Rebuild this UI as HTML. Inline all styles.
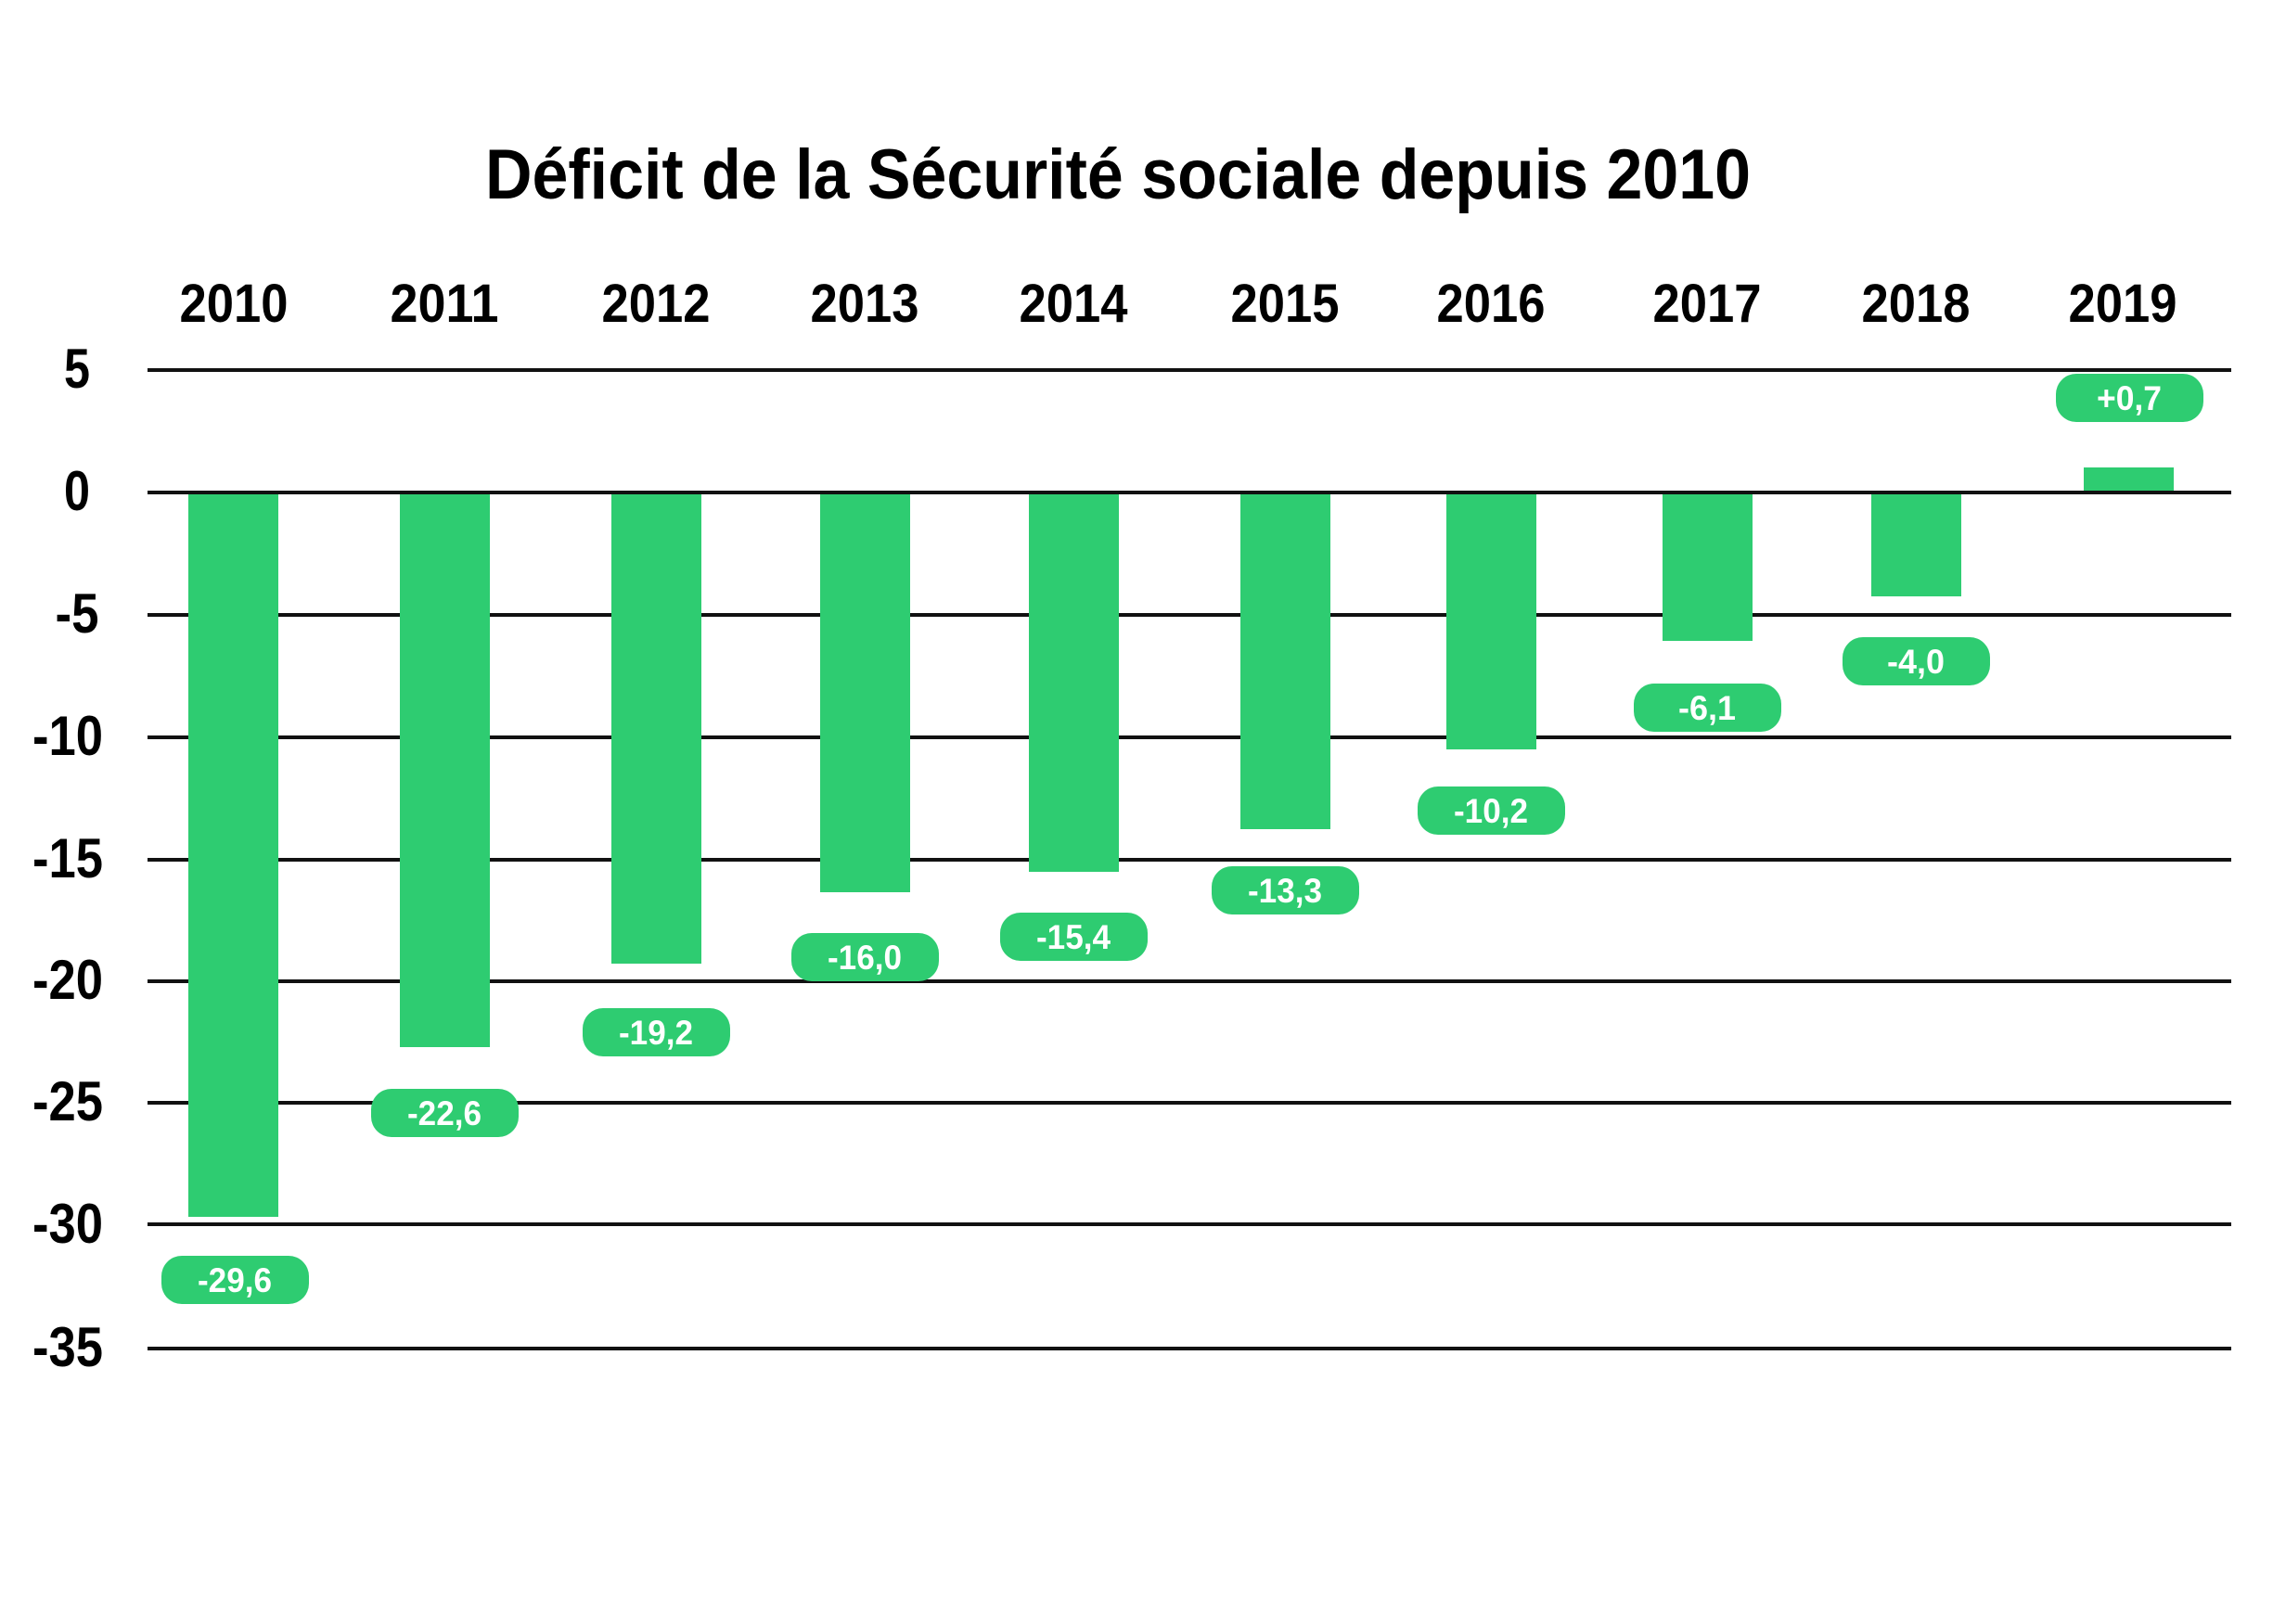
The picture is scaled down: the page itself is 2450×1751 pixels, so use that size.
<!DOCTYPE html>
<html><head><meta charset="utf-8"><style>
html,body{margin:0;padding:0;background:#fff;}
svg{display:block;}
text{font-family:"Liberation Sans",sans-serif;font-weight:bold;}
</style></head><body>
<svg width="2450" height="1751" viewBox="0 0 2450 1751" xmlns="http://www.w3.org/2000/svg">
<rect width="2450" height="1751" fill="#fff"/>
<text x="1205" y="214" font-size="76" text-anchor="middle" textLength="1364" lengthAdjust="spacingAndGlyphs" fill="#000">Déficit de la Sécurité sociale depuis 2010</text>
<g stroke="#111" stroke-width="4">
<line x1="159" x2="2405" y1="399" y2="399"/>
<line x1="159" x2="2405" y1="531" y2="531"/>
<line x1="159" x2="2405" y1="663" y2="663"/>
<line x1="159" x2="2405" y1="795" y2="795"/>
<line x1="159" x2="2405" y1="927" y2="927"/>
<line x1="159" x2="2405" y1="1058" y2="1058"/>
<line x1="159" x2="2405" y1="1189" y2="1189"/>
<line x1="159" x2="2405" y1="1320" y2="1320"/>
<line x1="159" x2="2405" y1="1454" y2="1454"/>
</g>
<g font-size="60" fill="#000" text-anchor="middle">
<text x="83" y="418" textLength="28" lengthAdjust="spacingAndGlyphs">5</text>
<text x="83" y="550" textLength="28" lengthAdjust="spacingAndGlyphs">0</text>
<text x="83" y="682" textLength="47" lengthAdjust="spacingAndGlyphs">-5</text>
<text x="73" y="814" textLength="76" lengthAdjust="spacingAndGlyphs">-10</text>
<text x="73" y="946" textLength="76" lengthAdjust="spacingAndGlyphs">-15</text>
<text x="73" y="1077" textLength="76" lengthAdjust="spacingAndGlyphs">-20</text>
<text x="73" y="1208" textLength="76" lengthAdjust="spacingAndGlyphs">-25</text>
<text x="73" y="1340" textLength="76" lengthAdjust="spacingAndGlyphs">-30</text>
<text x="73" y="1473" textLength="76" lengthAdjust="spacingAndGlyphs">-35</text>
</g>
<g font-size="58" fill="#000" text-anchor="middle">
<text x="252" y="347" textLength="117" lengthAdjust="spacingAndGlyphs">2010</text>
<text x="479" y="347" textLength="117" lengthAdjust="spacingAndGlyphs">2011</text>
<text x="707" y="347" textLength="117" lengthAdjust="spacingAndGlyphs">2012</text>
<text x="932" y="347" textLength="117" lengthAdjust="spacingAndGlyphs">2013</text>
<text x="1157" y="347" textLength="117" lengthAdjust="spacingAndGlyphs">2014</text>
<text x="1385" y="347" textLength="117" lengthAdjust="spacingAndGlyphs">2015</text>
<text x="1607" y="347" textLength="117" lengthAdjust="spacingAndGlyphs">2016</text>
<text x="1840" y="347" textLength="117" lengthAdjust="spacingAndGlyphs">2017</text>
<text x="2065" y="347" textLength="117" lengthAdjust="spacingAndGlyphs">2018</text>
<text x="2288" y="347" textLength="117" lengthAdjust="spacingAndGlyphs">2019</text>
</g>
<g fill="#2ecc71">
<rect x="203" y="533" width="97" height="779"/>
<rect x="431" y="533" width="97" height="596"/>
<rect x="659" y="533" width="97" height="506"/>
<rect x="884" y="533" width="97" height="429"/>
<rect x="1109" y="533" width="97" height="407"/>
<rect x="1337" y="533" width="97" height="361"/>
<rect x="1559" y="533" width="97" height="275"/>
<rect x="1792" y="533" width="97" height="158"/>
<rect x="2017" y="533" width="97" height="110"/>
<rect x="2246" y="504" width="97" height="25"/>
<rect x="174" y="1354" width="159" height="52" rx="22"/>
<rect x="400" y="1174" width="159" height="52" rx="22"/>
<rect x="628" y="1087" width="159" height="52" rx="22"/>
<rect x="853" y="1006" width="159" height="52" rx="22"/>
<rect x="1078" y="984" width="159" height="52" rx="22"/>
<rect x="1306" y="934" width="159" height="52" rx="22"/>
<rect x="1528" y="848" width="159" height="52" rx="22"/>
<rect x="1761" y="737" width="159" height="52" rx="22"/>
<rect x="1986" y="687" width="159" height="52" rx="22"/>
<rect x="2216" y="403" width="159" height="52" rx="22"/>
</g>
<g font-size="37" fill="#fff" text-anchor="middle">
<text x="253" y="1393" textLength="80" lengthAdjust="spacingAndGlyphs">-29,6</text>
<text x="479" y="1213" textLength="80" lengthAdjust="spacingAndGlyphs">-22,6</text>
<text x="707" y="1126" textLength="80" lengthAdjust="spacingAndGlyphs">-19,2</text>
<text x="932" y="1045" textLength="80" lengthAdjust="spacingAndGlyphs">-16,0</text>
<text x="1157" y="1023" textLength="80" lengthAdjust="spacingAndGlyphs">-15,4</text>
<text x="1385" y="973" textLength="80" lengthAdjust="spacingAndGlyphs">-13,3</text>
<text x="1607" y="887" textLength="80" lengthAdjust="spacingAndGlyphs">-10,2</text>
<text x="1840" y="776" textLength="62" lengthAdjust="spacingAndGlyphs">-6,1</text>
<text x="2065" y="726" textLength="62" lengthAdjust="spacingAndGlyphs">-4,0</text>
<text x="2295" y="442" textLength="70" lengthAdjust="spacingAndGlyphs">+0,7</text>
</g>
</svg>
</body></html>
